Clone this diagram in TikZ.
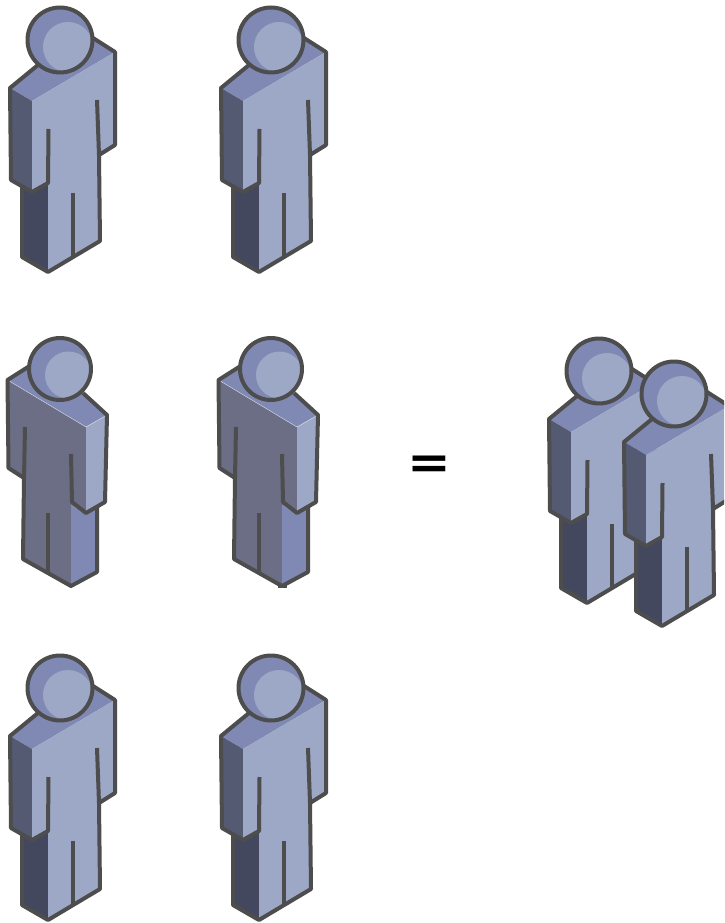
\documentclass[tikz,border=0pt]{standalone}
\usepackage{fontspec}
\newfontfamily\eqfont{DejaVu Sans}
\definecolor{pfront}{HTML}{9DA8C6}
\definecolor{ptop}{HTML}{7F89B3}
\definecolor{parm}{HTML}{535A72}
\definecolor{pleg}{HTML}{43485F}
\definecolor{pgrey}{HTML}{6B6E85}
\definecolor{pline}{HTML}{4D4D4D}
\tikzset{
  face/.style={fill=#1,draw=none},
  outline/.style={draw=pline,line width=3pt,line join=round,line cap=butt},
  seam/.style={draw=white,draw opacity=.55,line width=.4pt},
  pics/frontperson/.style={code={
    \path[face=ptop] (10,88) -- (38,65) -- (93,38) -- (115,52) -- (32,101) -- cycle;
    \path[face=parm] (10,88) -- (32,101) -- (32,192) -- (11,180) -- cycle;
    \path[face=pleg] (22,185) -- (32,192) -- (48,183) -- (48,272) -- (22,257) -- cycle;
    \path[face=pfront] (32,101) -- (115,52) -- (115,145) -- (99,155) -- (100,241) -- (48,272) -- (48,183) -- (32,192) -- cycle;
    \path[outline] (38,65) -- (10,88) -- (11,180) -- (32,192) -- (48,183) -- (48.5,129);
    \path[outline] (22,186) -- (22,257) -- (48,272) -- (100,241) -- (99,155);
    \path[outline] (97,100) -- (99,155) -- (115,145) -- (115,52) -- (93,38);
    \path[outline] (73,193) -- (73,258);
    \path[face=ptop] (60,40) circle [radius=32.5];
    \begin{scope}
      \clip (60,40) circle [radius=32.5];
      \path[face=pfront] (68,47) circle [radius=25];
    \end{scope}
    \path[outline] (60,40) circle [radius=32.5];
  }},
  pics/backperson/.style={code={
    \path[face=pgrey] (7.5,380) -- (86,427) -- (86,513) -- (71,505) -- (71,586) -- (23,559) -- (23,478) -- (8.5,468) -- cycle;
    \path[face=ptop] (7.5,380) -- (28,367) -- (83,393) -- (107,415) -- (86,427) -- cycle;
    \path[face=pfront] (86,427) -- (107,415) -- (105,502) -- (86,513) -- cycle;
    \path[face=ptop] (71,505) -- (86,513) -- (97,507) -- (97,572) -- (71,586) -- cycle;
    \path[seam] (7.5,380) -- (86,427) -- (107,415);
    \path[outline] (28,367) -- (7.5,380) -- (8.5,468) -- (24,478) -- (25,427);
    \path[outline] (24,478) -- (23,559) -- (71,586) -- (97,572) -- (97,507);
    \path[outline] (83,393) -- (107,415) -- (105,502) -- (86,513) -- (72,502) -- (71,454);
    \path[outline] (48,513) -- (48,573);
    \path[face=ptop] (60,369) circle [radius=31];
    \begin{scope}
      \clip (60,369) circle [radius=31];
      \path[face=pfront] (68.5,375) circle [radius=23.5];
    \end{scope}
    \path[outline] (60,369) circle [radius=31];
  }}
}
\begin{document}
\begin{tikzpicture}[x=0.75pt,y=-0.75pt]
\useasboundingbox (0,0) rectangle (724,923);
\clip (0,0) rectangle (724,923);
\fill[white] (0,0) rectangle (724,923);
\pic (p1) at (0,0) {frontperson};
\pic (p2) at (211,0) {frontperson};
\pic (p3) at (0,0) {backperson};
\pic (p4) at (211,0) {backperson};
\fill[pline] (278,584) rectangle (287,588);
\pic (p5) at (0,648) {frontperson};
\pic (p6) at (211,648) {frontperson};
\pic (p7) at (539,331) {frontperson};
\pic (p8) at (614,354) {frontperson};
\node[inner sep=0pt,anchor=center,xscale=1.12] (eq) at (429,467) {\eqfont\bfseries\fontsize{35pt}{35pt}\selectfont =};
\end{tikzpicture}
\end{document}
